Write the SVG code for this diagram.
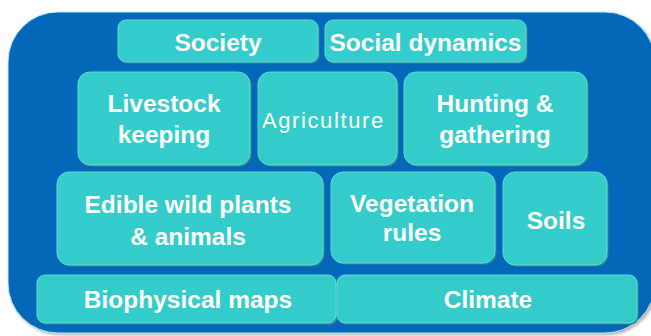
<svg xmlns="http://www.w3.org/2000/svg" width="651" height="336" viewBox="0 0 651 336">
  <defs>
    <filter id="blur" x="-10%" y="-10%" width="120%" height="120%">
      <feGaussianBlur stdDeviation="1.5"/>
    </filter>
  </defs>
  <style>
    .box { fill: #34CCCA; stroke: #62D9D8; stroke-width: 1; }
    .shadow { fill: #2A8C8C; }
    .lbl { font-family: "Liberation Sans", Arial, sans-serif; font-weight: bold; font-size: 24.5px; fill: #FFFFFF; text-anchor: middle; }
    .thin { font-family: "Liberation Sans", Arial, sans-serif; font-weight: normal; font-size: 22px; letter-spacing: 1.6px; fill: #FFFFFF; }
  </style>
  <rect width="651" height="336" fill="#FFFFFF"/>
  <g id="background">
    <rect x="10" y="14" width="647" height="321" rx="50" ry="50" fill="#7A7A7A" opacity="0.6" filter="url(#blur)"/>
    <rect x="8" y="12" width="647" height="321" rx="50" ry="50" fill="#0467B9" stroke="#BDEBF5" stroke-width="1"/>
  </g>
  <g id="society">
    <rect class="shadow" x="119.5" y="21.5" width="200" height="42" rx="8"/>
    <rect class="box" x="118" y="20" width="200" height="42" rx="8"/>
    <text class="lbl" x="218" y="51">Society</text>
  </g>
  <g id="social-dynamics">
    <rect class="shadow" x="326.5" y="21.5" width="201" height="42" rx="8"/>
    <rect class="box" x="325" y="20" width="201" height="42" rx="8"/>
    <text class="lbl" x="425.5" y="51">Social dynamics</text>
  </g>
  <g id="livestock">
    <rect class="shadow" x="79.5" y="73.5" width="172" height="93" rx="12"/>
    <rect class="box" x="78" y="72" width="172" height="93" rx="12"/>
    <text class="lbl" x="164" y="112">Livestock</text>
    <text class="lbl" x="164" y="143">keeping</text>
  </g>
  <g id="agriculture">
    <rect class="shadow" x="259.5" y="73.5" width="139" height="93" rx="12"/>
    <rect class="box" x="258" y="72" width="139" height="93" rx="12"/>
    <text class="thin" x="262" y="128">Agriculture</text>
  </g>
  <g id="hunting">
    <rect class="shadow" x="405.5" y="73.5" width="183" height="93" rx="12"/>
    <rect class="box" x="404" y="72" width="183" height="93" rx="12"/>
    <text class="lbl" x="495" y="112">Hunting &amp;</text>
    <text class="lbl" x="495" y="143">gathering</text>
  </g>
  <g id="edible">
    <rect class="shadow" x="58.5" y="173.5" width="266" height="93" rx="12"/>
    <rect class="box" x="57" y="172" width="266" height="93" rx="12"/>
    <text class="lbl" x="188" y="213">Edible wild plants</text>
    <text class="lbl" x="188" y="245">&amp; animals</text>
  </g>
  <g id="vegetation">
    <rect class="shadow" x="332.5" y="173.5" width="164" height="91" rx="12"/>
    <rect class="box" x="331" y="172" width="164" height="91" rx="12"/>
    <text class="lbl" x="412" y="212">Vegetation</text>
    <text class="lbl" x="412" y="241">rules</text>
  </g>
  <g id="soils">
    <rect class="shadow" x="504.5" y="173.5" width="104" height="93" rx="12"/>
    <rect class="box" x="503" y="172" width="104" height="93" rx="12"/>
    <text class="lbl" x="556" y="229">Soils</text>
  </g>
  <g id="biophysical">
    <rect class="shadow" x="38.5" y="276.5" width="299" height="48" rx="8"/>
    <rect class="box" x="37" y="275" width="299" height="48" rx="8"/>
    <text class="lbl" x="188" y="308">Biophysical maps</text>
  </g>
  <g id="climate">
    <rect class="shadow" x="338.5" y="276.5" width="300" height="48" rx="8"/>
    <rect class="box" x="337" y="275" width="300" height="48" rx="8"/>
    <text class="lbl" x="488" y="308">Climate</text>
  </g>
  <g id="connectors"/>
</svg>
